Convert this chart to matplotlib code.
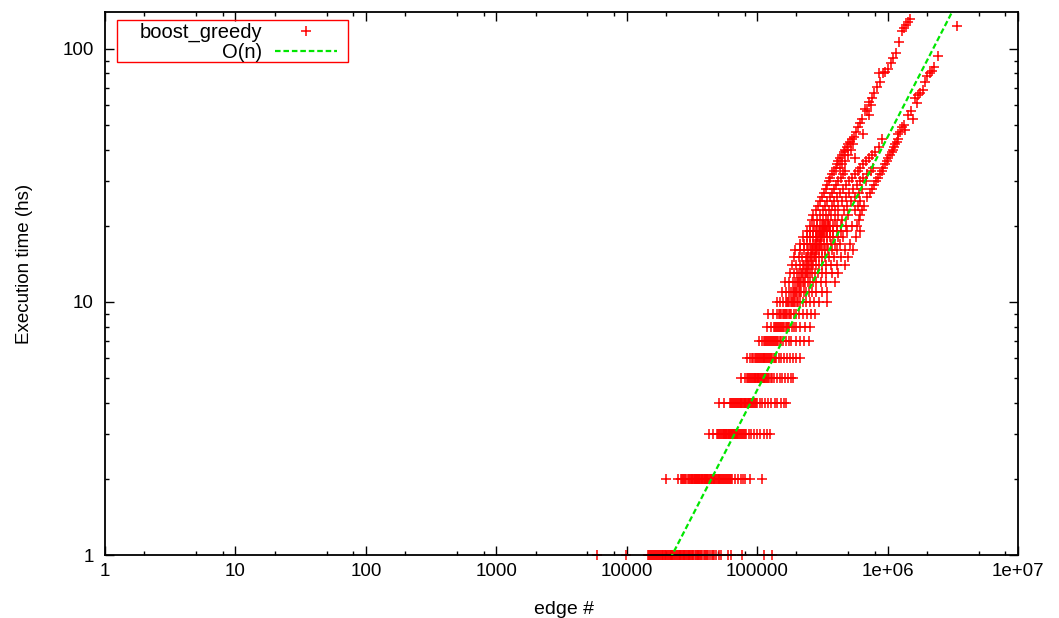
import numpy as np
import matplotlib.pyplot as plt
from matplotlib.patches import Rectangle
from matplotlib.ticker import FixedLocator, NullFormatter

plt.rcParams['font.family'] = ['Liberation Sans', 'DejaVu Sans']

t1_x = [5900, 9800, 14600, 15100, 15700, 16200, 16500, 17100, 17600, 18000, 18600, 19100,
        19500, 20100, 20800, 21300, 21900, 22400, 23000, 23700, 24300, 25100, 25800, 26400,
        27300, 28100, 28900, 29800, 30600, 31700, 32500, 33800, 34900, 36100, 37400, 38900,
        40300, 42100, 43800, 46000, 48200, 50900, 52500, 60000, 63000, 77000, 113000, 130000,
        14800, 15400, 15900, 16700, 17400, 18300, 18900, 19700, 20400, 21000, 21700, 22200,
        22700, 23400, 24700, 25500, 26100, 26800, 27700, 28500, 29300, 30200, 31200, 32100,
        33200, 34300, 35500, 36700, 38100, 39600, 41200, 44800, 47000]
t2_x = [20000, 24800, 25900, 27200, 28000, 29300, 30500, 31400, 32300, 33100, 34000, 34800,
        35700, 36500, 37600, 38400, 39500, 40600, 41500, 42700, 43900, 45200, 46400, 47800,
        49300, 50700, 52100, 53800, 55600, 57400, 59300, 61800, 64500, 67200, 70800, 74600,
        78500, 81000, 88000, 109000,
        26500, 27600, 28700, 29900, 30900, 31800, 32700, 33500, 34400, 35200, 36100, 37000,
        38000, 39000, 40000, 41000, 42100, 43300, 44500, 45800, 47100, 48500, 50000, 51400,
        53000, 54700, 56500, 58300, 60500, 63000]
t3_x = [42800, 46000, 49000, 51200, 53000, 54600, 56100, 57500, 59000, 60400, 61900, 63200,
        64800, 66300, 67900, 69700, 71600, 73800, 76000, 78900, 82400, 86100, 90300, 95200,
        100500, 105000, 112000, 120000, 126000,
        50100, 52100, 53800, 55300, 56800, 58200, 59700, 61100, 62500, 64000, 65500, 67100,
        68800, 70600, 72700, 74900, 77400, 80600]
t4_x = [51100, 55800, 61700, 64000, 66800, 69300, 71500, 73600, 75800, 77900, 80100, 82500,
        84800, 87300, 90100, 93200, 96800, 100300, 104500, 109200, 114600, 120300, 127500,
        136000, 143000, 152000, 160000, 167000,
        62800, 65400, 68000, 70400, 72500, 74700, 76800, 79000, 81300, 83600, 86000, 88700,
        91600, 95000, 98500]
t5_x = [75400, 81000, 85300, 88700, 91500, 94200, 96900, 99600, 102400, 105300, 108600,
        112000, 115700, 119800, 124300, 129500, 135200, 141800, 148600, 156300, 164000,
        172000, 181000, 189000,
        83100, 87000, 90100, 92800, 95500, 98200, 101000, 103800, 106900, 110300, 113800,
        117700, 122000, 126900]
t6_x = [83800, 88300, 93500, 97600, 101200, 104800, 108300, 111900, 115600, 119500, 123800,
        128400, 133700, 139500, 145800, 152600, 160300, 169000, 178500, 188700, 200000, 214000,
        91000, 95500, 99400, 103000, 106500, 110100, 113700, 117500, 121600, 126100, 131000,
        136600]
t7_x = [103000, 108000, 113000, 117500, 121800, 126000, 130400, 135100, 140200, 145500,
        151800, 158700, 166400, 174200, 182000, 197000, 212000, 228000, 251000,
        115200, 119600, 123900, 128200, 132700, 137600, 142800, 148500]
t8_x = [119000, 127000, 134000, 139500, 144800, 150200, 155900, 162000, 168400, 175300,
        183500, 192000, 200000, 214000, 233000, 255000,
        136700, 142100, 147500, 153000, 158900, 165200, 171800]
t9_x = [121000, 133000, 141000, 147500, 153600, 160000, 166800, 174100, 182000, 190500,
        199800, 210000, 224000, 241000, 258000, 279000,
        150500, 156800, 163400, 170400, 178000]
t10_x = [142000, 151000, 159000, 166000, 173000, 180500, 188200, 196400, 205300, 214800,
         225000, 238000, 254000, 272000, 300000, 344000,
         169500, 176700, 184300, 192300, 200800]
t11_x = [155000, 166000, 175000, 183000, 191000, 199500, 208300, 217600, 227400, 238000,
         250000, 265000, 284000, 312000, 344000,
         187000, 195200, 203900, 213000]
t12_x = [164000, 176000, 187000, 196000, 205000, 214000, 223500, 233000, 243800, 255000,
         268000, 285000, 308000, 340000, 397000,
         200500, 209500, 218700, 228200]
t13_x = [179000, 191000, 201000, 211000, 221000, 231000, 241500, 252600, 264000, 277000,
         292000, 312000, 338000, 372000, 418000,
         216000, 226000, 236200, 247000]
t14_x = [186000, 199000, 212000, 224000, 235000, 246000, 258000, 270000, 283000, 298000,
         316000, 340000, 368000, 410000, 473000,
         229500, 240500, 252000, 264000]
t15_x = [193000, 208000, 222000, 235000, 247000, 259000, 272000, 285000, 299000, 315000,
         334000, 358000, 390000, 440000, 500000,
         241000, 253000, 265500, 278500]
t16_x = [196000, 214000, 230000, 244000, 257000, 270000, 283000, 297000, 312000, 329000,
         350000, 376000, 412000, 470000, 545000,
         263500, 276500, 290000]
t17_x = [214000, 229000, 243000, 256000, 269000, 282000, 296000, 310000, 326000, 344000,
         366000, 394000, 430000, 517000,
         275500, 289000, 303000]
t18_x = [225000, 240000, 255000, 268000, 281000, 295000, 309000, 324000, 341000, 360000,
         384000, 414000, 455000, 574000,
         288000, 302000, 316500]
t19_x = [242000, 256000, 270000, 284000, 298000, 312000, 327000, 343000, 361000, 382000,
         408000, 442000, 490000, 617000,
         305000, 319500, 335000]
t20_x = [255000, 272000, 288000, 302000, 316000, 331000, 347000, 364000, 384000, 408000,
         438000, 478000, 530000, 585000,
         323500, 339000, 355500]
bands = [t1_x, t2_x, t3_x, t4_x, t5_x, t6_x, t7_x, t8_x, t9_x, t10_x,
         t11_x, t12_x, t13_x, t14_x, t15_x, t16_x, t17_x, t18_x, t19_x, t20_x]

# scattered points between 21 and 44 hs
mid_x = [262000, 290000, 318000, 352000, 395000, 450000, 600000,
         270000, 305000, 335000, 370000, 420000, 500000, 620000,
         282000, 320000, 355000, 395000, 460000, 560000, 640000,
         295000, 330000, 372000, 420000, 490000, 590000, 660000,
         305000, 345000, 390000, 445000, 520000, 620000,
         315000, 360000, 410000, 480000, 560000, 700000,
         325000, 375000, 430000, 510000, 600000, 730000,
         335000, 390000, 455000, 540000, 640000, 760000,
         345000, 405000, 480000, 580000, 790000,
         355000, 420000, 505000, 610000, 680000, 820000,
         365000, 440000, 530000, 650000, 840000,
         375000, 455000, 560000, 700000, 870000,
         390000, 475000, 590000, 740000, 900000,
         400000, 430000, 620000, 780000, 930000,
         410000, 450000, 650000, 960000,
         420000, 470000, 680000, 990000,
         435000, 560000, 720000, 1010000,
         450000, 500000, 760000, 1050000,
         465000, 800000, 1080000,
         475000, 520000, 1100000,
         490000, 860000, 1120000,
         500000, 545000, 1150000,
         515000, 1180000,
         530000, 900000, 1200000]
mid_y = [21] * 7 + [22] * 7 + [23] * 7 + [24] * 7 + [25] * 6 + [26] * 6 + [27] * 6 + \
        [28] * 6 + [29] * 5 + [30] * 6 + [31] * 5 + [32] * 5 + [33] * 5 + [34] * 5 + \
        [35] * 4 + [36] * 4 + [37] * 4 + [38] * 4 + [39] * 3 + [40] * 3 + [41] * 3 + \
        [42] * 3 + [43] * 2 + [44] * 3

# the two branches above 45 hs
up_x = [555000, 650000, 595000, 639000, 722000, 673000, 722000, 762000, 832000,
        862000, 925000, 1010000, 1100000, 1160000, 1230000, 1290000, 1390000, 1490000,
        575000, 610000, 690000, 745000, 790000, 880000, 960000, 1060000, 1340000, 1440000]
up_y = [45, 46, 49, 53, 55, 58, 62, 64, 71, 80, 80, 83, 92, 96, 107, 118, 124, 131,
        47, 51, 57, 60, 67, 74, 81, 88, 121, 128]
lo_x = [1210000, 1370000, 1290000, 1570000, 1440000, 1690000, 1630000, 1720000,
        1880000, 2010000, 2200000, 2280000, 2440000, 3420000,
        1250000, 1330000, 1500000, 1780000, 1950000, 2100000]
lo_y = [46, 48, 49, 53, 55, 61, 64, 66, 69, 78, 82, 85, 94, 123,
        47, 50, 57, 67, 74, 80]

on_coef = 1 / 22300.0  # O(n) reference line

xticks = [1, 10, 100, 1000, 10000, 100000, 1e6, 1e7]
xtick_labels = ['1', '10', '100', '1000', '10000', '100000', '1e+06', '1e+07']
yticks = [1, 10, 100]
ytick_labels = ['1', '10', '100']

edges = []
times = []
for i, b in enumerate(bands):
    edges += b
    times += [i + 1] * len(b)
edges += mid_x + up_x + lo_x
times += mid_y + up_y + lo_y

fig = plt.figure(figsize=(10.59, 6.18), dpi=100)
ax = fig.add_axes([105 / 1059, 1 - 555 / 618, 913 / 1059, 543 / 618])

ax.plot(edges, times, linestyle='none', marker='+', color='#ff0000', markersize=6.8,
        markeredgewidth=1.1, label='boost_greedy', clip_on=False, zorder=2)
xf = np.array([1.0, 1e7])
ax.plot(xf, xf * on_coef, color='#00e600', linewidth=1.6, dashes=(2.5, 1.3),
        label='O(n)', zorder=3)

ax.set_xscale('log')
ax.set_yscale('log')
ax.set_xlim(1, 1e7)
ax.set_ylim(1, 140)

ax.xaxis.set_major_locator(FixedLocator(xticks))
ax.set_xticklabels(xtick_labels)
ax.yaxis.set_major_locator(FixedLocator(yticks))
ax.set_yticklabels(ytick_labels)
xminor = [m * 10 ** k for k in range(7) for m in (2, 5, 8)]
yminor = [m * 10 ** k for k in range(3) for m in range(2, 10)]
ax.xaxis.set_minor_locator(FixedLocator(xminor))
ax.yaxis.set_minor_locator(FixedLocator(yminor))
ax.xaxis.set_minor_formatter(NullFormatter())
ax.yaxis.set_minor_formatter(NullFormatter())

ax.tick_params(which='both', direction='in', top=True, right=True, labelsize=13.5)
ax.tick_params(axis='x', pad=6)
ax.tick_params(axis='y', pad=8)
ax.tick_params(which='major', length=6.5, width=1.0)
ax.tick_params(which='minor', length=3.2, width=1.0)
for s in ax.spines.values():
    s.set_linewidth(1.3)

ax.set_xlabel('edge #', fontsize=14)
ax.set_ylabel('Execution time (hs)', fontsize=13.5)
ax.xaxis.set_label_coords(0.503, -0.0847)
ax.yaxis.set_label_coords(-0.079, 0.536)

# key: gnuplot style, text right aligned before the sample, red box
leg = ax.legend(loc='upper right', bbox_to_anchor=(232 / 913, 1 - 11 / 543), borderaxespad=0,
                markerfirst=False, frameon=False, fontsize=14.5,
                handlelength=3.1, handletextpad=0.6, labelspacing=0.05, borderpad=0)
ax.add_patch(Rectangle((12 / 913, 1 - 50 / 543), 231 / 913, 42 / 543,
                       transform=ax.transAxes, fill=False, edgecolor='#ff0000',
                       linewidth=1.0, zorder=5))

fig.savefig('out.png', dpi=100)
